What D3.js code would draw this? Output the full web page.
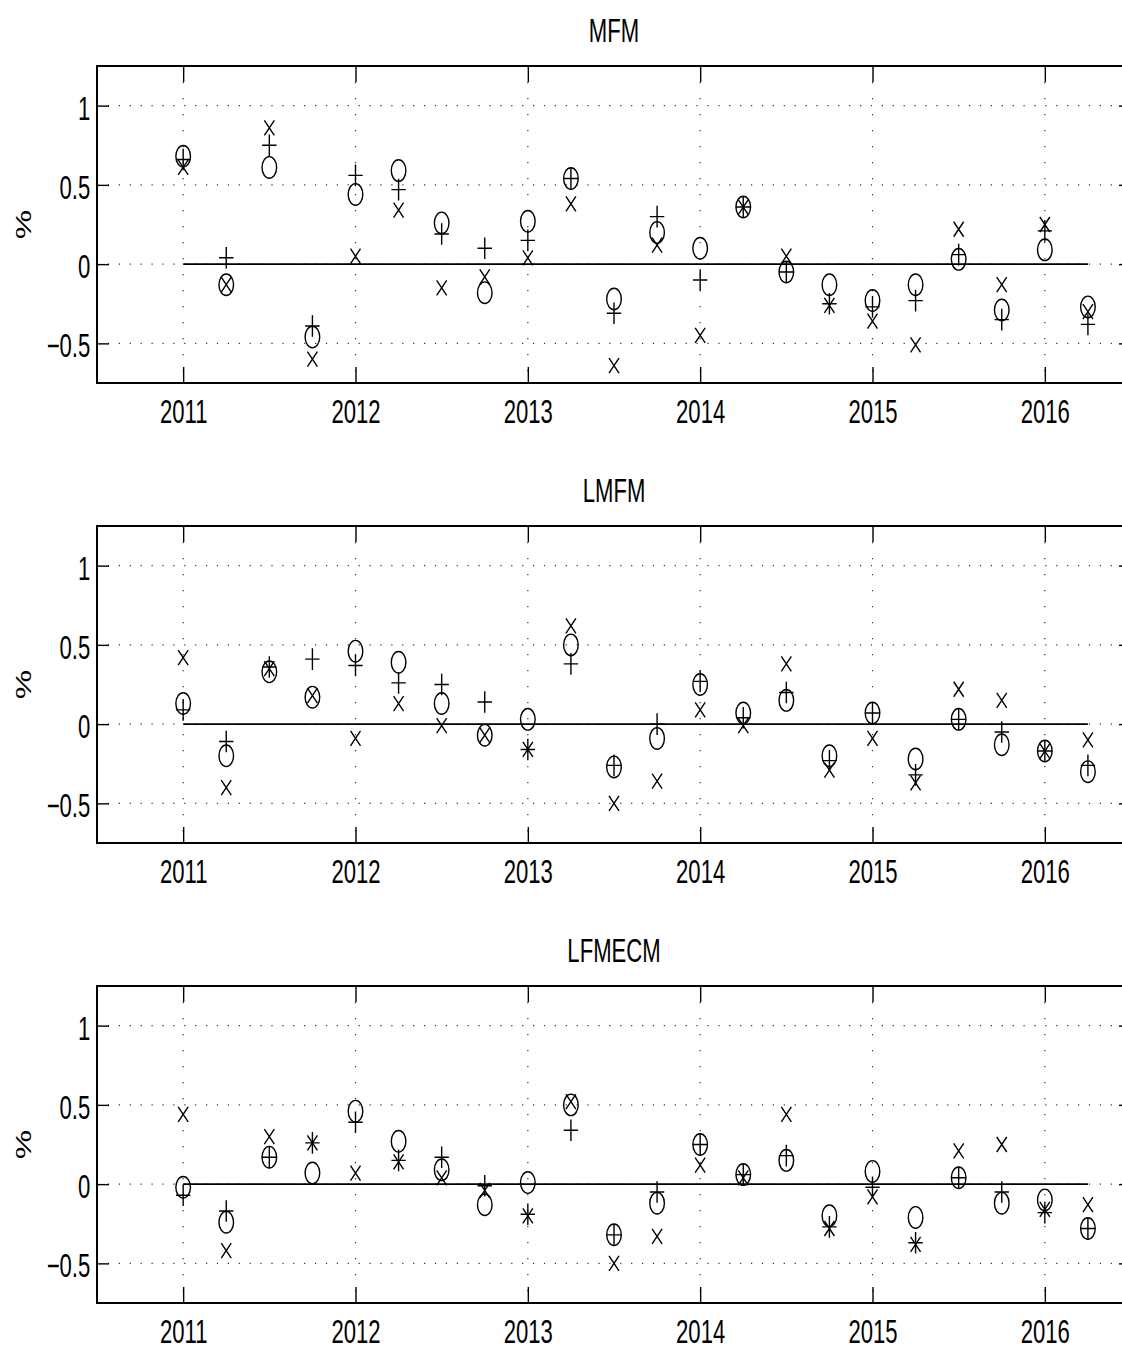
<!DOCTYPE html>
<html>
<head>
<meta charset="utf-8">
<script src="https://cdn.jsdelivr.net/npm/d3@7"></script>
<style>
  body { margin: 0; background: #fff; }
  text { font-family: "Liberation Sans", Arial, sans-serif; fill: #000; }
</style>
</head>
<body>
<div id="chart"></div>
<script>
// quarterly forecast errors, three markers per model
const quarters = [2011, 2011.25, 2011.5, 2011.75, 2012, 2012.25, 2012.5, 2012.75,
  2013, 2013.25, 2013.5, 2013.75, 2014, 2014.25, 2014.5, 2014.75,
  2015, 2015.25, 2015.5, 2015.75, 2016, 2016.25];
const xTicks = [2011, 2012, 2013, 2014, 2015, 2016];
const yTicks = [-0.5, 0, 0.5, 1];
const titles = ["MFM", "LMFM", "LFMECM"];

const mfmCircle = [0.68, -0.13, 0.61, -0.46, 0.44, 0.59, 0.26, -0.18, 0.27, 0.54, -0.22,
  0.20, 0.10, 0.36, -0.05, -0.13, -0.23, -0.13, 0.03, -0.29, 0.09, -0.27];
const mfmPlus = [0.66, 0.04, 0.75, -0.39, 0.56, 0.47, 0.19, 0.10, 0.15, 0.54, -0.31,
  0.30, -0.10, 0.36, -0.05, -0.25, -0.27, -0.23, 0.06, -0.35, 0.21, -0.38];
const mfmCross = [0.61, -0.13, 0.86, -0.60, 0.05, 0.34, -0.15, -0.08, 0.04, 0.38, -0.64,
  0.12, -0.45, 0.36, 0.05, -0.26, -0.36, -0.51, 0.22, -0.13, 0.25, -0.30];

const lmfmCircle = [0.13, -0.20, 0.33, 0.17, 0.46, 0.39, 0.13, -0.07, 0.03, 0.50, -0.27,
  -0.09, 0.25, 0.07, 0.15, -0.20, 0.07, -0.22, 0.03, -0.13, -0.17, -0.30];
const lmfmPlus = [0.09, -0.11, 0.36, 0.41, 0.37, 0.26, 0.25, 0.14, -0.16, 0.38, -0.26,
  0.00, 0.27, 0.04, 0.20, -0.23, 0.07, -0.32, 0.03, -0.05, -0.17, -0.26];
const lmfmCross = [0.42, -0.40, 0.35, 0.18, -0.09, 0.13, -0.01, -0.07, -0.16, 0.62, -0.50,
  -0.36, 0.09, -0.01, 0.38, -0.29, -0.09, -0.37, 0.22, 0.15, -0.17, -0.10];

const lfmecmCircle = [-0.02, -0.24, 0.17, 0.07, 0.46, 0.27, 0.09, -0.13, 0.01, 0.50, -0.32,
  -0.12, 0.25, 0.06, 0.15, -0.20, 0.08, -0.21, 0.04, -0.12, -0.10, -0.28];
const lfmecmPlus = [-0.07, -0.17, 0.17, 0.26, 0.39, 0.15, 0.17, -0.01, -0.19, 0.34, -0.32,
  -0.05, 0.25, 0.06, 0.18, -0.27, -0.02, -0.37, 0.04, -0.05, -0.18, -0.28];
const lfmecmCross = [0.44, -0.42, 0.30, 0.26, 0.07, 0.14, 0.04, -0.04, -0.20, 0.52, -0.50,
  -0.33, 0.12, 0.04, 0.44, -0.28, -0.08, -0.38, 0.21, 0.25, -0.16, -0.13];

const panels = [
  { circle: mfmCircle, plus: mfmPlus, cross: mfmCross },
  { circle: lmfmCircle, plus: lmfmPlus, cross: lmfmCross },
  { circle: lfmecmCircle, plus: lfmecmPlus, cross: lfmecmCross }
];

const W = 1122, H = 1350;
const squeeze = 0.67; // the original figure is squashed horizontally
const fontSize = 33;
const left = 97, plotW = 1034, plotH = 317;
const tops = [66, 526, 986];

const svg = d3.select("#chart").append("svg").attr("width", W).attr("height", H);

const x = d3.scaleLinear().domain([2010.5, 2016.5]).range([left, left + plotW]);

panels.forEach((p, i) => {
  const top = tops[i];
  const y = d3.scaleLinear().domain([-0.75, 1.25]).range([top + plotH, top]);
  const g = svg.append("g");

  // dotted grid
  g.append("g")
    .selectAll("line")
    .data(yTicks)
    .join("line")
    .attr("x1", left).attr("x2", left + plotW)
    .attr("y1", d => y(d)).attr("y2", d => y(d))
    .attr("stroke", "#333").attr("stroke-width", 1.2)
    .attr("stroke-dasharray", "1.2,9.7");

  g.append("g")
    .selectAll("line")
    .data(xTicks)
    .join("line")
    .attr("x1", d => x(d)).attr("x2", d => x(d))
    .attr("y1", top).attr("y2", top + plotH)
    .attr("stroke", "#333").attr("stroke-width", 1.2)
    .attr("stroke-dasharray", "1.2,14.8");

  // axes, ticks pointing inward
  const xAxis = g.append("g")
    .attr("transform", `translate(0,${top + plotH})`)
    .call(d3.axisBottom(x).tickValues(xTicks).tickFormat(d3.format("d"))
      .tickSizeInner(-16).tickSizeOuter(0).tickPadding(16.5));
  xAxis.attr("font-size", null).attr("font-family", null);
  xAxis.selectAll("text")
    .attr("font-size", fontSize)
    .attr("transform", `scale(${squeeze},1)`);

  g.append("g")
    .attr("transform", `translate(0,${top})`)
    .call(d3.axisTop(x).tickValues(xTicks).tickFormat("")
      .tickSizeInner(-16).tickSizeOuter(0));

  const yAxis = g.append("g")
    .attr("transform", `translate(${left},0)`)
    .call(d3.axisLeft(y).tickValues(yTicks).tickFormat(d3.format("~g"))
      .tickSizeInner(-12).tickSizeOuter(0).tickPadding(10));
  yAxis.attr("font-size", null).attr("font-family", null);
  yAxis.selectAll("text")
    .attr("font-size", fontSize)
    .attr("dy", "0.41em")
    .attr("transform", `scale(${squeeze},1)`);

  g.append("g")
    .attr("transform", `translate(${left + plotW},0)`)
    .call(d3.axisRight(y).tickValues(yTicks).tickFormat("")
      .tickSizeInner(-12).tickSizeOuter(0));

  g.selectAll(".domain").remove();
  g.selectAll(".tick line").attr("stroke", "#000").attr("stroke-width", 1.4);

  g.append("rect")
    .attr("x", left).attr("y", top)
    .attr("width", plotW).attr("height", plotH)
    .attr("fill", "none").attr("stroke", "#000").attr("stroke-width", 2);

  // zero line over the forecast span
  g.append("line")
    .attr("x1", x(quarters[0])).attr("x2", x(quarters[quarters.length - 1]))
    .attr("y1", y(0)).attr("y2", y(0))
    .attr("stroke", "#000").attr("stroke-width", 1.8);

  // markers
  g.append("g")
    .selectAll("ellipse")
    .data(p.circle)
    .join("ellipse")
    .attr("cx", (d, j) => x(quarters[j]))
    .attr("cy", d => y(d))
    .attr("rx", 7.3).attr("ry", 10.8)
    .attr("fill", "none").attr("stroke", "#000").attr("stroke-width", 1.4);

  g.append("g")
    .selectAll("path")
    .data(p.plus)
    .join("path")
    .attr("d", (d, j) => {
      const cx = x(quarters[j]), cy = y(d);
      return `M${cx - 7.2},${cy}H${cx + 7.2}M${cx},${cy - 10.8}V${cy + 10.8}`;
    })
    .attr("fill", "none").attr("stroke", "#000").attr("stroke-width", 1.4);

  g.append("g")
    .selectAll("path")
    .data(p.cross)
    .join("path")
    .attr("d", (d, j) => {
      const cx = x(quarters[j]), cy = y(d);
      return `M${cx - 5},${cy - 7.5}L${cx + 5},${cy + 7.5}M${cx - 5},${cy + 7.5}L${cx + 5},${cy - 7.5}`;
    })
    .attr("fill", "none").attr("stroke", "#000").attr("stroke-width", 1.4);

  // title and unit label
  g.append("text")
    .attr("transform", `translate(${left + plotW / 2},${top - 24}) scale(${squeeze},1)`)
    .attr("text-anchor", "middle")
    .attr("font-size", fontSize)
    .text(titles[i]);

  g.append("text")
    .attr("transform", `translate(31,${top + plotH / 2}) scale(${squeeze},1) rotate(-90)`)
    .attr("text-anchor", "middle")
    .attr("font-size", fontSize)
    .text("%");
});
</script>
</body>
</html>
